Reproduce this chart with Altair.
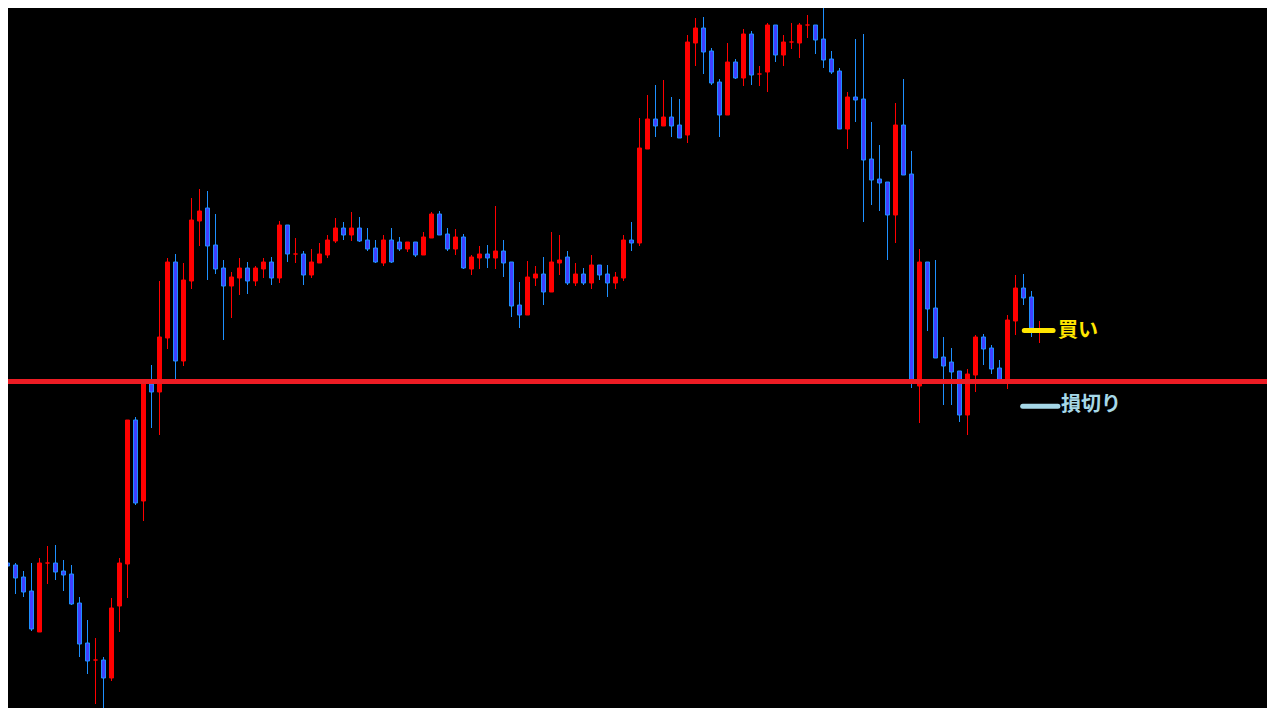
import altair as alt
import pandas as pd

# Candle values (price units, higher = up)
open_ = [149, 157, 155, 143, 129, 88, 157, 157, 149, 146, 117, 77, 60, 60, 42, 114, 156, 300, 219, 336,
         328, 382, 458, 359, 439, 499, 512, 475, 452, 434, 442, 452, 439, 451, 458, 442, 495, 466, 466, 445,
         457, 465, 479, 492, 485, 492, 480, 472, 457, 480, 478, 471, 478, 465, 482, 506, 486, 471, 483, 451,
         462, 466, 462, 469, 458, 415, 405, 442, 446, 428, 457, 463, 437, 446, 437, 455, 446, 437, 442, 480,
         477, 571, 601, 594, 603, 595, 585, 677, 692, 669, 638, 605, 658, 642, 686, 646, 648, 695, 665, 678,
         677, 695, 695, 681, 661, 649, 591, 623, 621, 561, 541, 538, 505, 595, 546, 334, 458, 412, 363, 358,
         349, 305, 345, 383, 372, 352, 338, 399, 432, 423, 390]
high = [157, 175, 157, 149, 157, 162, 174, 175, 160, 155, 123, 100, 82, 63, 122, 162, 300, 303, 339, 355,
        439, 462, 466, 457, 522, 531, 529, 506, 460, 448, 462, 458, 454, 462, 463, 499, 495, 482, 469, 471,
        477, 485, 502, 498, 508, 503, 492, 480, 485, 492, 483, 478, 478, 488, 508, 509, 492, 491, 486, 465,
        474, 475, 514, 480, 458, 438, 459, 454, 463, 488, 485, 469, 457, 452, 465, 455, 455, 448, 485, 498,
        602, 625, 635, 640, 623, 621, 685, 702, 703, 672, 641, 677, 661, 691, 689, 654, 697, 695, 685, 697,
        697, 705, 695, 712, 669, 652, 628, 681, 686, 598, 575, 538, 617, 641, 569, 471, 458, 460, 383, 372,
        349, 351, 385, 386, 375, 360, 405, 445, 446, 429, 399]
low = [148, 129, 126, 123, 89, 88, 136, 140, 129, 115, 63, 46, 16, 6, 39, 88, 122, 215, 199, 292,
       285, 371, 341, 354, 431, 474, 440, 446, 380, 402, 425, 426, 434, 442, 435, 437, 458, 457, 435, 442,
       457, 462, 477, 480, 479, 478, 469, 457, 454, 457, 469, 468, 463, 465, 482, 485, 469, 465, 451, 445,
       451, 452, 451, 443, 403, 392, 405, 434, 415, 428, 445, 435, 434, 435, 431, 440, 423, 431, 439, 469,
       474, 571, 583, 594, 583, 582, 577, 654, 646, 635, 583, 605, 641, 634, 635, 634, 628, 658, 654, 671,
       662, 682, 666, 652, 646, 591, 571, 598, 498, 515, 509, 460, 477, 545, 332, 297, 389, 362, 315, 315,
       298, 285, 328, 355, 346, 339, 331, 385, 415, 383, 377]
close = [157, 154, 142, 128, 91, 157, 157, 148, 145, 116, 76, 59, 60, 42, 112, 157, 300, 217, 338, 328,
         383, 458, 359, 440, 500, 509, 474, 451, 434, 443, 452, 439, 452, 458, 442, 495, 466, 466, 445, 458,
         466, 480, 492, 485, 492, 479, 471, 458, 480, 458, 471, 478, 465, 483, 506, 485, 471, 483, 452, 463,
         466, 462, 469, 457, 414, 405, 443, 446, 428, 458, 460, 437, 446, 437, 455, 445, 437, 443, 480, 477,
         572, 601, 594, 603, 594, 582, 678, 692, 668, 637, 605, 658, 642, 686, 645, 646, 695, 665, 678, 678,
         695, 695, 680, 660, 648, 591, 623, 620, 560, 540, 537, 505, 595, 545, 338, 458, 411, 362, 354, 348,
         305, 346, 383, 371, 351, 340, 400, 432, 422, 392, 390]

support_level = [338.5]

# Annotation markers (segment + label)
ann_label = ["買い", "損切り"]
ann_level = [389.5, 313.7]
ann_start = [128.1, 127.9]
ann_end = [131.7, 132.3]
ann_text_x = [132.3, 132.7]
ann_text_y = [389.5, 315.0]
ann_color = ["#FFE600", "#A6D8E8"]

n = len(open_)
df = pd.DataFrame({
    "t": list(range(n)),
    "open": open_,
    "high": high,
    "low": low,
    "close": close,
})
ann = pd.DataFrame({
    "label": ann_label, "level": ann_level, "start": ann_start, "end": ann_end,
    "tx": ann_text_x, "ty": ann_text_y, "color": ann_color,
})
lvl = pd.DataFrame({"level": support_level})

W, H = 1259, 700
xs = alt.Scale(domain=[1.0625, 158.4375], nice=False, zero=False, padding=0)
ys = alt.Scale(domain=[12, 712], nice=False, zero=False, padding=0)

up = "datum.close >= datum.open"

wicks = alt.Chart(df).mark_rule(strokeWidth=1, clip=True).encode(
    x=alt.X("t:Q", scale=xs, axis=None),
    y=alt.Y("low:Q", scale=ys, axis=None),
    y2="high:Q",
    color=alt.condition(up, alt.value("#FF0000"), alt.value("#1E90FF")),
)

bodies = alt.Chart(df).mark_bar(size=4, strokeWidth=1, clip=True).encode(
    x=alt.X("t:Q", scale=xs, axis=None),
    y=alt.Y("open:Q", scale=ys, axis=None),
    y2="close:Q",
    fill=alt.condition(up, alt.value("#FF0000"), alt.value("#4040FF")),
    stroke=alt.condition(up, alt.value("#FF0000"), alt.value("#1E90FF")),
)

support = alt.Chart(lvl).mark_rule(strokeWidth=5, color="#ED1C24").encode(
    y=alt.Y("level:Q", scale=ys, axis=None),
)

ann_lines = alt.Chart(ann).mark_rule(strokeWidth=5, strokeCap="round").encode(
    x=alt.X("start:Q", scale=xs, axis=None),
    x2="end:Q",
    y=alt.Y("level:Q", scale=ys, axis=None),
    color=alt.Color("color:N", scale=None, legend=None),
)

ann_text = alt.Chart(ann).mark_text(
    font="Noto Sans CJK JP", fontSize=20, fontWeight="bold", align="left", baseline="middle"
).encode(
    x=alt.X("tx:Q", scale=xs, axis=None),
    y=alt.Y("ty:Q", scale=ys, axis=None),
    text="label:N",
    color=alt.Color("color:N", scale=None, legend=None),
)

chart = alt.layer(wicks, bodies, support, ann_lines, ann_text).properties(
    width=W, height=H, background="#000000", padding=0,
    autosize=alt.AutoSizeParams(type="none"),
).configure_view(stroke=None)

chart.save("out.html", embed_options={"renderer": "svg", "actions": False})
